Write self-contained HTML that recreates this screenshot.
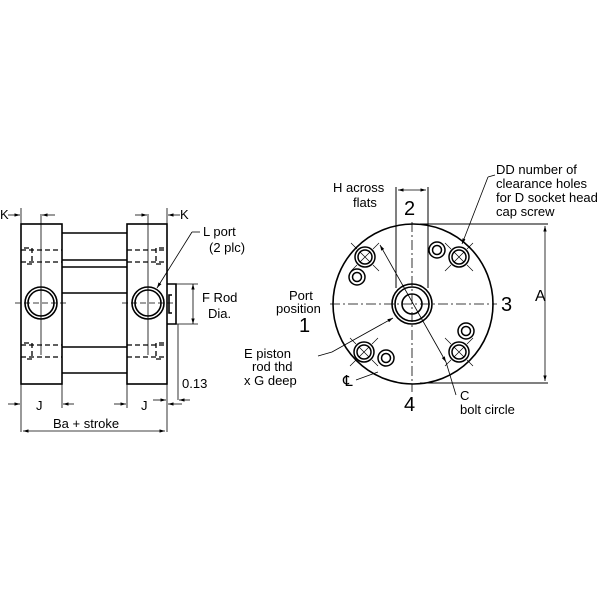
<!DOCTYPE html>
<html><head><style>body{margin:0;background:#fff}svg{display:block}text{font-family:"Liberation Sans",sans-serif;fill:#000}</style></head><body>
<svg width="600" height="600" viewBox="0 0 600 600" xmlns="http://www.w3.org/2000/svg">
<defs><marker id="a" viewBox="0 0 10 10" refX="10" refY="5" markerWidth="7" markerHeight="7" orient="auto-start-reverse"><path d="M0,2L10,5L0,8z" fill="#000"/></marker></defs>
<g stroke="#000" fill="none" stroke-width="1.6">
<rect x="21" y="224" width="41" height="160" fill="#fff"/>
<rect x="127" y="224" width="40" height="160" fill="#fff"/>
<line x1="62" y1="233" x2="127" y2="233"/><line x1="62" y1="260" x2="127" y2="260"/>
<line x1="62" y1="267" x2="127" y2="267"/><line x1="62" y1="293" x2="127" y2="293"/>
<line x1="62" y1="347" x2="127" y2="347"/><line x1="62" y1="373" x2="127" y2="373"/>
<path d="M167,284h9v40h-9" /><path d="M172,295h-3v18h3"/>
<g stroke-dasharray="5,3" stroke-width="1.3">
<line x1="21" y1="250" x2="62" y2="250"/><line x1="21" y1="262" x2="62" y2="262"/>
<line x1="21" y1="345" x2="62" y2="345"/><line x1="21" y1="357" x2="62" y2="357"/>
<line x1="127" y1="250" x2="167" y2="250"/><line x1="127" y1="262" x2="167" y2="262"/>
<line x1="127" y1="345" x2="167" y2="345"/><line x1="127" y1="357" x2="167" y2="357"/>
<path d="M24,248h8v16h-8M24,343h8v16h-8M164,248h-8v16h8M164,343h-8v16h8"/>
</g>
<circle cx="41" cy="303" r="16"/><circle cx="41" cy="303" r="13"/>
<circle cx="148" cy="303" r="16"/><circle cx="148" cy="303" r="13"/>
<g stroke-width="0.8">
<line x1="41" y1="214" x2="41" y2="355"/><line x1="148" y1="214" x2="148" y2="355"/>
<line x1="15" y1="303" x2="68" y2="303" stroke-dasharray="6,3"/><line x1="122" y1="303" x2="175" y2="303" stroke-dasharray="6,3"/>
<line x1="21" y1="384" x2="21" y2="432"/><line x1="62" y1="384" x2="62" y2="408"/>
<line x1="127" y1="384" x2="127" y2="408"/><line x1="167" y1="384" x2="167" y2="432"/>
<line x1="21" y1="208" x2="21" y2="224"/><line x1="167" y1="208" x2="167" y2="224"/>
<line x1="178" y1="324" x2="178" y2="400"/>
<line x1="176" y1="284" x2="198" y2="284"/><line x1="176" y1="324" x2="198" y2="324"/>
<line x1="193" y1="284" x2="193" y2="324" marker-start="url(#a)" marker-end="url(#a)"/>
<line x1="23" y1="431" x2="165" y2="431" marker-start="url(#a)" marker-end="url(#a)"/>
<line x1="8" y1="404" x2="20" y2="404" marker-end="url(#a)"/><line x1="74" y1="404" x2="63" y2="404" marker-end="url(#a)"/>
<line x1="114" y1="404" x2="126" y2="404" marker-end="url(#a)"/><line x1="182" y1="404" x2="168" y2="404" marker-end="url(#a)"/>
<line x1="153" y1="400" x2="166" y2="400" marker-end="url(#a)"/><line x1="190" y1="400" x2="179" y2="400" marker-end="url(#a)"/>
<line x1="8" y1="215" x2="20" y2="215" marker-end="url(#a)"/><line x1="55" y1="215" x2="42" y2="215" marker-end="url(#a)"/>
<line x1="135" y1="215" x2="147" y2="215" marker-end="url(#a)"/><line x1="180" y1="215" x2="168" y2="215" marker-end="url(#a)"/>
<line x1="200" y1="232" x2="192" y2="232"/><line x1="192" y1="232" x2="157" y2="288" marker-end="url(#a)"/>
</g>
<circle cx="413" cy="304" r="80"/>
<circle cx="412" cy="304" r="20"/><circle cx="412" cy="304" r="17"/><circle cx="412" cy="304" r="10"/>
<g stroke-width="1">
<line x1="396" y1="187" x2="396" y2="288"/><line x1="428" y1="187" x2="428" y2="288"/>
<line x1="398" y1="190" x2="426" y2="190" marker-start="url(#a)" marker-end="url(#a)" stroke-width="0.8"/>
<g stroke-dasharray="10,3,2,3" stroke-width="0.8"><line x1="330" y1="304" x2="497" y2="304"/><line x1="412" y1="222" x2="412" y2="392"/></g>
<line x1="420" y1="224" x2="548" y2="224"/><line x1="420" y1="383" x2="548" y2="383"/>
<line x1="545" y1="226" x2="545" y2="381" marker-start="url(#a)" marker-end="url(#a)" stroke-width="0.8"/>
<line x1="380" y1="245" x2="446" y2="362" marker-start="url(#a)" marker-end="url(#a)" stroke-width="0.8"/>
<line x1="446" y1="362" x2="456" y2="395" stroke-width="0.8"/>
<line x1="495" y1="175" x2="488" y2="177" stroke-width="0.8"/><line x1="488" y1="177" x2="462" y2="244" stroke-width="0.8" marker-end="url(#a)"/>
<path d="M318,356 L332,352 L393,318" stroke-width="0.8" marker-end="url(#a)"/>
<path d="M356,380 L378,372" stroke-width="0.8"/>
</g>
<g stroke-width="1.5">
<g transform="translate(365,257)"><circle r="10"/><circle r="7"/><path d="M-5,-5L5,5M5,-5L-5,5M-14,-14L-8,-8M8,8L14,14M14,-14L8,-8M-8,8L-14,14" stroke-width="0.7"/></g>
<g transform="translate(459,257)"><circle r="10"/><circle r="7"/><path d="M-5,-5L5,5M5,-5L-5,5M-14,-14L-8,-8M8,8L14,14M14,-14L8,-8M-8,8L-14,14" stroke-width="0.7"/></g>
<g transform="translate(364,352)"><circle r="10"/><circle r="7"/><path d="M-5,-5L5,5M5,-5L-5,5M-14,-14L-8,-8M8,8L14,14M14,-14L8,-8M-8,8L-14,14" stroke-width="0.7"/></g>
<g transform="translate(459,352)"><circle r="10"/><circle r="7"/><path d="M-5,-5L5,5M5,-5L-5,5M-14,-14L-8,-8M8,8L14,14M14,-14L8,-8M-8,8L-14,14" stroke-width="0.7"/></g>
<circle cx="437" cy="250" r="8"/><circle cx="437" cy="250" r="4.5"/>
<circle cx="357" cy="277" r="8"/><circle cx="357" cy="277" r="4.5"/>
<circle cx="466" cy="331" r="8"/><circle cx="466" cy="331" r="4.5"/>
<circle cx="386" cy="358" r="8"/><circle cx="386" cy="358" r="4.5"/>
</g>
</g>
<g font-size="13">
<text x="0" y="219">K</text><text x="180" y="219">K</text>
<text x="203" y="236">L port</text><text x="209" y="252">(2 plc)</text>
<text x="202" y="302">F Rod</text><text x="208" y="318">Dia.</text>
<text x="182" y="388">0.13</text>
<text x="36" y="410">J</text><text x="141" y="410">J</text>
<text x="53" y="428">Ba + stroke</text>
<text x="333" y="192">H across</text><text x="353" y="207">flats</text>
<text x="496" y="174">DD number of</text><text x="496" y="188">clearance holes</text><text x="496" y="202">for D socket head</text><text x="496" y="216">cap screw</text>
<text x="289" y="300">Port</text><text x="276" y="313">position</text>
<text x="244" y="358">E piston</text><text x="252" y="371">rod thd</text><text x="244" y="385">x G deep</text>
<text x="343" y="386" font-size="15">℄</text>
<text x="460" y="400">C</text><text x="460" y="414">bolt circle</text>
</g>
<text x="535" y="301" font-size="16">A</text>
<g font-size="20"><text x="404" y="215">2</text><text x="501" y="311">3</text><text x="299" y="332">1</text><text x="404" y="411">4</text></g>
</svg>
</body></html>
